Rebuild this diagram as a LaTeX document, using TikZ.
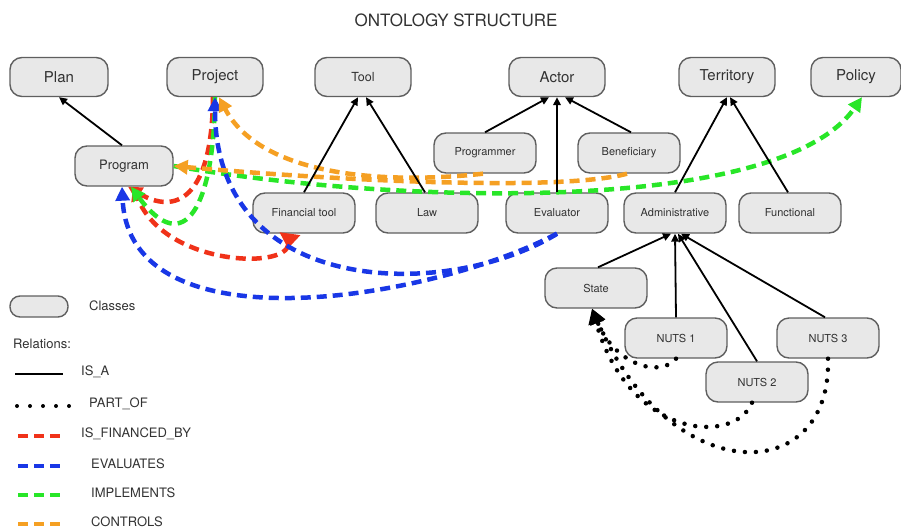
\documentclass[tikz,border=0pt]{standalone}
\usepackage{fontspec}
\setmainfont{TeX Gyre Heros}
\usetikzlibrary{arrows.meta}

\definecolor{relred}{RGB}{240,50,25}
\definecolor{relblue}{RGB}{25,55,230}
\definecolor{relgreen}{RGB}{40,230,40}
\definecolor{relorange}{RGB}{245,160,35}
\definecolor{boxfill}{RGB}{232,232,232}
\definecolor{boxline}{RGB}{95,95,95}
\definecolor{txt}{RGB}{50,50,50}

\begin{document}
\begin{tikzpicture}[x=1pt,y=-1pt]
  \tikzstyle{cls}=[draw=boxline,fill=boxfill,rounded corners=12pt,line width=1.4pt,minimum width=102pt,minimum height=40pt,inner sep=0pt,text=txt,font=\fontsize{11}{13}\selectfont]
  \tikzstyle{big}=[cls,minimum width=96pt,minimum height=39pt,font=\fontsize{15}{18}\selectfont]
  \tikzstyle{isa}=[line width=1.8pt,-{Triangle[length=8pt,width=7.5pt]}]
  \tikzstyle{rel}=[line width=4.5pt,dash pattern=on 10pt off 6pt,-{Triangle[length=14pt,width=14pt]}]
  \tikzstyle{partof}=[line width=4.5pt,line cap=round,dash pattern=on 0pt off 11pt,-{Triangle[length=15pt,width=15pt]}]
  \tikzstyle{legtext}=[anchor=west,text=txt,font=\fontsize{13}{15}\selectfont,inner sep=0pt]
  \useasboundingbox (0,0) rectangle (901,530);

  \node[text=txt,font=\fontsize{17}{20}\selectfont] (title) at (456,20) {ONTOLOGY STRUCTURE};

  % classes
  \node[big,minimum width=98pt] (plan) at (59,77) {Plan};
  \node[big] (project) at (215,77) {Project};
  \node[big,font=\fontsize{12.5}{15}\selectfont] (tool) at (363,77) {Tool};
  \node[big] (actor) at (557,77) {Actor};
  \node[big] (territory) at (727,77) {Territory};
  \node[big,minimum width=90pt] (policy) at (856,77) {Policy};
  \node[cls,minimum width=98pt,font=\fontsize{13}{15}\selectfont] (program) at (124,166) {Program};
  \node[cls] (programmer) at (485,153) {Programmer};
  \node[cls] (beneficiary) at (629,153) {Beneficiary};
  \node[cls] (fintool) at (304,213) {Financial tool};
  \node[cls] (law) at (427,213) {Law};
  \node[cls] (evaluator) at (557,213) {Evaluator};
  \node[cls] (admin) at (675,213) {Administrative};
  \node[cls] (functional) at (790,213) {Functional};
  \node[cls] (state) at (596,288) {State};
  \node[cls] (nuts1) at (676,338) {NUTS 1};
  \node[cls] (nuts2) at (757,382) {NUTS 2};
  \node[cls] (nuts3) at (828,338) {NUTS 3};

  % is_financed_by
  \draw[rel,relred] ([xshift=-2pt]project.south) .. controls (212,200) and (175,215) .. ([xshift=4pt]program.south);
  \draw[rel,relred,{Triangle[reversed,length=15pt,width=20pt]}-{Triangle[length=14pt,width=14pt]}] ([xshift=-14pt]fintool.south) .. controls (285,270) and (165,265) .. ([xshift=9pt]program.south);
  % implements
  \draw[rel,relgreen] (project.south) .. controls (214,205) and (185,260) .. ([xshift=7pt]program.south);
  \draw[rel,relgreen] (program.east) .. controls (400,205) and (780,215) .. ([xshift=6pt]policy.south);
  % evaluates
  \draw[rel,relblue] (evaluator.south) .. controls (450,300) and (215,300) .. (project.south);
  \draw[rel,relblue] (evaluator.south) .. controls (430,300) and (130,350) .. ([xshift=-2pt]program.south);
  % controls
  \draw[rel,relorange] ([xshift=-2pt]programmer.south) .. controls (380,185) and (260,175) .. ([xshift=4pt]project.south);
  \draw[rel,relorange] ([xshift=-2pt]beneficiary.south) .. controls (560,192) and (330,180) .. (program.east);

  % part_of
  \draw[partof] (nuts1.south) .. controls (660,378) and (615,365) .. ([xshift=-4pt]state.south);
  \draw[partof] ([xshift=-5pt]nuts2.south) .. controls (735,445) and (630,440) .. ([xshift=-4pt]state.south);
  \draw[partof] (nuts3.south) .. controls (832,488) and (670,490) .. ([xshift=-4pt]state.south);

  % is_a
  \draw[isa] ([xshift=-2pt]program.north) -- (plan.south);
  \draw[isa] (fintool.north) -- ([xshift=-5pt]tool.south);
  \draw[isa] ([xshift=-2pt]law.north) -- ([xshift=3pt]tool.south);
  \draw[isa] (programmer.north) -- ([xshift=-8pt]actor.south);
  \draw[isa] (evaluator.north) -- (actor.south);
  \draw[isa] ([xshift=2pt]beneficiary.north) -- ([xshift=8pt]actor.south);
  \draw[isa] (admin.north) -- (territory.south);
  \draw[isa] ([xshift=-2pt]functional.north) -- ([xshift=3pt]territory.south);
  \draw[isa] ([xshift=2pt]state.north) -- ([xshift=-4pt]admin.south);
  \draw[isa] (nuts1.north) -- (admin.south);
  \draw[isa] (nuts2.north) -- ([xshift=3pt]admin.south);
  \draw[isa] ([xshift=-3pt]nuts3.north) -- ([xshift=6pt]admin.south);

  % legend
  \node[cls,minimum width=58pt,minimum height=21pt,rounded corners=10pt] (legbox) at (39,306.5) {};
  \node[legtext] (legcls) at (89,306) {Classes};
  \node[legtext] (legrel) at (13,344) {Relations:};
  \coordinate (isa_a) at (15,374);
  \coordinate (isa_b) at (63,374);
  \draw[line width=1.8pt] (isa_a) -- (isa_b);
  \node[legtext] (legisa) at (81,372) {IS\_A};
  \coordinate (part_a) at (17,406);
  \coordinate (part_b) at (70,406);
  \draw[line width=4pt,line cap=round,dash pattern=on 0pt off 13pt] (part_a) -- (part_b);
  \node[legtext] (legpart) at (89,404) {PART\_OF};
  \coordinate (fin_a) at (18,436);
  \coordinate (fin_b) at (61,436);
  \draw[line width=4pt,dash pattern=on 10pt off 6pt,relred] (fin_a) -- (fin_b);
  \node[legtext] (legfin) at (81,434) {IS\_FINANCED\_BY};
  \coordinate (eva_a) at (18,466);
  \coordinate (eva_b) at (61,466);
  \draw[line width=4pt,dash pattern=on 10pt off 6pt,relblue] (eva_a) -- (eva_b);
  \node[legtext] (legeva) at (91,464) {EVALUATES};
  \coordinate (imp_a) at (18,495);
  \coordinate (imp_b) at (61,495);
  \draw[line width=4pt,dash pattern=on 10pt off 6pt,relgreen] (imp_a) -- (imp_b);
  \node[legtext] (legimp) at (91,493) {IMPLEMENTS};
  \coordinate (con_a) at (18,524);
  \coordinate (con_b) at (61,524);
  \draw[line width=4pt,dash pattern=on 10pt off 6pt,relorange] (con_a) -- (con_b);
  \node[legtext] (legcon) at (91,522) {CONTROLS};
\end{tikzpicture}
\end{document}
